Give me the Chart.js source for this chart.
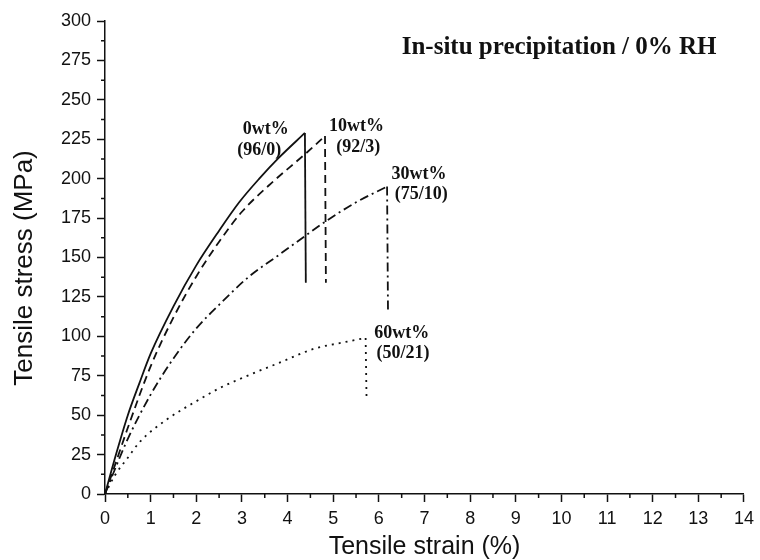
<!DOCTYPE html>
<html lang="en">
<head>
    <meta charset="utf-8">
    <title>Tensile stress-strain, in-situ precipitation / 0% RH</title>
    <script src="https://cdn.jsdelivr.net/npm/chart.js"></script>
    <style>
        html, body { margin: 0; padding: 0; background: #fff; }
        #grafico { display: block; }
    </style>
</head>
<body>
    <canvas id="grafico" width="760" height="560"></canvas>

    <script>
        // curves: strain (%) / stress (MPa)
        // the last point of each curve is the bottom of the break (vertical drop)
        let strain0 = [0, 0.25, 0.5, 0.75, 1, 1.5, 2, 2.5, 2.94, 3.38, 3.8, 4.38, 4.40];
        let stress0 = [0, 26, 50, 70, 89, 119, 145, 167, 185, 200, 213, 229, 134];

        let strain10 = [0, 0.25, 0.5, 1, 1.5, 2, 2.5, 3, 3.6, 4.4, 4.82, 4.84];
        let stress10 = [0, 21, 42, 81, 112, 138, 160, 179, 196, 216, 227, 134];

        let strain30 = [0, 0.25, 0.5, 1, 1.5, 2, 2.5, 3.16, 3.78, 4.4, 4.84, 5.5, 6.18, 6.20];
        let stress30 = [0, 18, 35, 63, 86, 105, 120, 138, 151, 164, 173, 185, 195, 117];

        let strain60 = [0, 0.22, 0.5, 0.76, 1.34, 2.07, 2.5, 3.16, 3.8, 4.61, 5.2, 5.71, 5.73];
        let stress60 = [0, 12, 23, 33, 47, 60, 67, 75.5, 83, 92.4, 96, 99, 61];

        let xTicks = [0, 14, 1];   // min, max, step
        let yTicks = [0, 300, 25];

        // text in the plot, placed in data coordinates
        let notas = [
            { t: "0wt%",   x: 3.52, y: 231 },
            { t: "(96/0)", x: 3.38, y: 218 },
            { t: "10wt%",  x: 5.51, y: 233 },
            { t: "(92/3)", x: 5.55, y: 220 },
            { t: "30wt%",  x: 6.88, y: 203 },
            { t: "(75/10)", x: 6.93, y: 190 },
            { t: "60wt%",  x: 6.50, y: 102 },
            { t: "(50/21)", x: 6.53, y: 89 }
        ];
        let tituloTexto = "In-situ precipitation / 0% RH";
        let tituloPos = { x: 9.95, y: 283 };
        let tituloY = "Tensile stress (MPa)";

        function pontos(xs, ys) {
            return xs.map((x, i) => ({ x: x, y: ys[i] }));
        }

        // smooth curve up to the peak, then a straight drop
        function serie(label, xs, ys, dash) {
            let todos = pontos(xs, ys);
            let base = {
                showLine: true,
                borderColor: "#111",
                borderWidth: 1.8,
                borderDash: dash,
                pointRadius: 0,
                fill: false
            };
            return [
                Object.assign({ label: label, data: todos.slice(0, -1), cubicInterpolationMode: "monotone" }, base),
                Object.assign({ label: label + " break", data: todos.slice(-2), tension: 0 }, base)
            ];
        }

        // minor ticks, y title and texts
        const extras = {
            id: "extras",
            afterDraw(chart) {
                const ctx = chart.ctx;
                const sx = chart.scales.x, sy = chart.scales.y;
                ctx.save();
                ctx.strokeStyle = "#111";
                ctx.lineWidth = 1.5;
                ctx.beginPath();
                for (let v = xTicks[0] + xTicks[2] / 2; v < xTicks[1]; v += xTicks[2]) {
                    let px = sx.getPixelForValue(v);
                    ctx.moveTo(px, sy.bottom);
                    ctx.lineTo(px, sy.bottom + 4);
                }
                for (let v = yTicks[0] + yTicks[2] / 2; v < yTicks[1]; v += yTicks[2]) {
                    let py = sy.getPixelForValue(v);
                    ctx.moveTo(sx.left, py);
                    ctx.lineTo(sx.left - 4, py);
                }
                ctx.stroke();

                ctx.fillStyle = "#111";
                ctx.textAlign = "center";
                ctx.textBaseline = "middle";
                ctx.font = "bold 18px 'Liberation Serif', 'DejaVu Serif', serif";
                notas.forEach(n => {
                    ctx.fillText(n.t, sx.getPixelForValue(n.x), sy.getPixelForValue(n.y));
                });
                ctx.font = "bold 25px 'Liberation Serif', 'DejaVu Serif', serif";
                ctx.fillText(tituloTexto, sx.getPixelForValue(tituloPos.x), sy.getPixelForValue(tituloPos.y));

                // y axis title, a bit below the middle as in the original
                ctx.translate(25, 268);
                ctx.rotate(-Math.PI / 2);
                ctx.font = "26px 'Liberation Sans', Arial, sans-serif";
                ctx.fillText(tituloY, 0, 0);
                ctx.restore();
            }
        };

        const fonteEixo = { family: "'Liberation Sans', Arial, sans-serif", size: 18 };

        new Chart(document.getElementById("grafico"), {
            type: "scatter",
            data: {
                datasets: [].concat(
                    serie("0wt%", strain0, stress0, []),
                    serie("10wt%", strain10, stress10, [8, 5]),
                    serie("30wt%", strain30, stress30, [9, 4, 2, 4]),
                    serie("60wt%", strain60, stress60, [2, 5])
                )
            },
            options: {
                responsive: false,
                animation: false,
                layout: { padding: { top: 21, right: 12, left: 0, bottom: 0 } },
                plugins: {
                    legend: { display: false },
                    tooltip: { enabled: false }
                },
                scales: {
                    x: {
                        type: "linear",
                        min: xTicks[0], max: xTicks[1],
                        ticks: { stepSize: xTicks[2], color: "#111", font: fonteEixo, padding: 6, maxRotation: 0, autoSkip: false },
                        grid: { drawOnChartArea: false, tickLength: 8, tickColor: "#111", tickWidth: 1.5 },
                        border: { color: "#111", width: 1.5 },
                        title: { display: true, text: "Tensile strain (%)", color: "#111",
                                 font: { family: "'Liberation Sans', Arial, sans-serif", size: 25, lineHeight: 1 },
                                 padding: { top: 0, bottom: 0 } },
                        afterFit: s => { s.height = 66; }
                    },
                    y: {
                        type: "linear",
                        min: yTicks[0], max: yTicks[1],
                        ticks: { stepSize: yTicks[2], color: "#111", font: fonteEixo, padding: 6 },
                        grid: { drawOnChartArea: false, tickLength: 8, tickColor: "#111", tickWidth: 1.5 },
                        border: { color: "#111", width: 1.5 },
                        title: { display: false },
                        afterFit: s => { s.width = 105; }
                    }
                }
            },
            plugins: [extras]
        });
    </script>
</body>
</html>
